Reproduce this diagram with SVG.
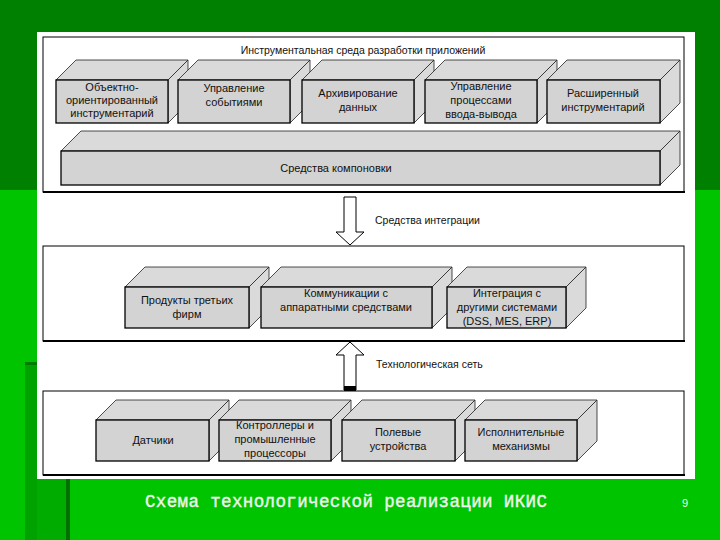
<svg xmlns="http://www.w3.org/2000/svg" width="720" height="540" viewBox="0 0 720 540">
<style>
.panel{fill:#fff;stroke:#000;stroke-width:1}
.pb{stroke:#000;stroke-width:2;fill:none}
.side{fill:#dadada;stroke:#222;stroke-width:0.8;stroke-linejoin:round}
.front{fill:#d3d3d3;stroke:#000;stroke-width:1.3}
.t{font-family:"Liberation Sans",Arial,sans-serif;font-size:11px;fill:#111;text-anchor:middle}
.lbl{font-family:"Liberation Sans",Arial,sans-serif;font-size:10.5px;fill:#111}
.arrow{fill:#fff;stroke:#000;stroke-width:1}
</style>
<rect x="0" y="0" width="720" height="540" fill="#00c400"/>
<rect x="0" y="0" width="720" height="190" fill="#008000"/>
<rect x="25" y="363" width="12" height="177" fill="#00a200"/>
<rect x="25" y="362" width="12" height="3" fill="#007a00"/>
<rect x="37" y="479" width="30" height="61" fill="#00ac00"/>
<rect x="66" y="479" width="4" height="61" fill="#007000"/>
<rect x="37" y="32" width="658" height="447" fill="#fff"/>

<g id="panel-top">
<rect class="panel" x="43" y="37" width="641" height="155"/>
<line class="pb" x1="43" y1="192" x2="685" y2="192"/>
<text class="lbl" x="363" y="54" text-anchor="middle">Инструментальная среда разработки приложений</text>
</g>
<g id="panel-mid">
<rect class="panel" x="43" y="246" width="641" height="95"/>
<line class="pb" x1="43" y1="341" x2="685" y2="341"/>
</g>
<g id="panel-bot">
<rect class="panel" x="43" y="391" width="641" height="84"/>
<line class="pb" x1="43" y1="475" x2="685" y2="475"/>
</g>

<g id="b1">
<polygon class="side" points="56,80 76,60 188,60 168,80"/>
<polygon class="side" points="168,80 188,60 188,103 168,123"/>
<rect class="front" x="56" y="80" width="112" height="43"/>
<text class="t" x="112" y="91">Объектно-</text>
<text class="t" x="112" y="104">ориентированный</text>
<text class="t" x="112" y="117">инструментарий</text>
</g>
<g id="b2">
<polygon class="side" points="178,80 198,60 310,60 290,80"/>
<polygon class="side" points="290,80 310,60 310,103 290,123"/>
<rect class="front" x="178" y="80" width="112" height="43"/>
<text class="t" x="234" y="92">Управление</text>
<text class="t" x="234" y="106">событиями</text>
</g>
<g id="b3">
<polygon class="side" points="302,80 322,60 434,60 414,80"/>
<polygon class="side" points="414,80 434,60 434,103 414,123"/>
<rect class="front" x="302" y="80" width="112" height="43"/>
<text class="t" x="358" y="97">Архивирование</text>
<text class="t" x="358" y="111">данных</text>
</g>
<g id="b4">
<polygon class="side" points="425,80 445,60 557,60 537,80"/>
<polygon class="side" points="537,80 557,60 557,103 537,123"/>
<rect class="front" x="425" y="80" width="112" height="43"/>
<text class="t" x="481" y="90">Управление</text>
<text class="t" x="481" y="104">процессами</text>
<text class="t" x="481" y="118">ввода-вывода</text>
</g>
<g id="b5">
<polygon class="side" points="547,80 567,60 680,60 660,80"/>
<polygon class="side" points="660,80 680,60 680,103 660,123"/>
<rect class="front" x="547" y="80" width="113" height="43"/>
<text class="t" x="603" y="97">Расширенный</text>
<text class="t" x="603" y="111">инструментарий</text>
</g>
<g id="b6">
<polygon class="side" points="61,151 81,131 680,131 660,151"/>
<polygon class="side" points="660,151 680,131 680,165 660,185"/>
<rect class="front" x="61" y="151" width="599" height="34"/>
<text class="t" x="336" y="172">Средства компоновки</text>
</g>

<g id="m1">
<polygon class="side" points="125,287 145,267 269,267 249,287"/>
<polygon class="side" points="249,287 269,267 269,308 249,328"/>
<rect class="front" x="125" y="287" width="124" height="41"/>
<text class="t" x="187" y="304">Продукты третьих</text>
<text class="t" x="187" y="318">фирм</text>
</g>
<g id="m2">
<polygon class="side" points="261,287 281,267 452,267 432,287"/>
<polygon class="side" points="432,287 452,267 452,308 432,328"/>
<rect class="front" x="261" y="287" width="171" height="41"/>
<text class="t" x="346" y="297">Коммуникации с</text>
<text class="t" x="346" y="311">аппаратными средствами</text>
</g>
<g id="m3">
<polygon class="side" points="447,287 467,267 586,267 566,287"/>
<polygon class="side" points="566,287 586,267 586,308 566,328"/>
<rect class="front" x="447" y="287" width="119" height="41"/>
<text class="t" x="507" y="297">Интеграция с</text>
<text class="t" x="507" y="311">другими системами</text>
<text class="t" x="507" y="325">(DSS, MES, ERP)</text>
</g>

<g id="d1">
<polygon class="side" points="96,420 116,400 229,400 209,420"/>
<polygon class="side" points="209,420 229,400 229,441 209,461"/>
<rect class="front" x="96" y="420" width="113" height="41"/>
<text class="t" x="153" y="444">Датчики</text>
</g>
<g id="d2">
<polygon class="side" points="219,420 239,400 351,400 331,420"/>
<polygon class="side" points="331,420 351,400 351,441 331,461"/>
<rect class="front" x="219" y="420" width="112" height="41"/>
<text class="t" x="275" y="429">Контроллеры и</text>
<text class="t" x="275" y="443">промышленные</text>
<text class="t" x="275" y="457">процессоры</text>
</g>
<g id="d3">
<polygon class="side" points="342,420 362,400 475,400 455,420"/>
<polygon class="side" points="455,420 475,400 475,441 455,461"/>
<rect class="front" x="342" y="420" width="113" height="41"/>
<text class="t" x="398" y="436">Полевые</text>
<text class="t" x="398" y="450">устройства</text>
</g>
<g id="d4">
<polygon class="side" points="465,420 485,400 597,400 577,420"/>
<polygon class="side" points="577,420 597,400 597,441 577,461"/>
<rect class="front" x="465" y="420" width="112" height="41"/>
<text class="t" x="521" y="436">Исполнительные</text>
<text class="t" x="521" y="450">механизмы</text>
</g>

<g id="connectors">
<polygon class="arrow" points="344,197 356,197 356,232 364,232 350,245 336,232 344,232"/>
<text class="lbl" x="375" y="224">Средства интеграции</text>
<polygon class="arrow" points="350,342 364,355 356,355 356,390 344,390 344,355 336,355"/>
<rect x="344" y="386" width="12" height="5" fill="#000"/>
<text class="lbl" x="376" y="368">Технологическая сеть</text>
</g>

<text x="145" y="507" font-family="'Liberation Mono','Courier New',monospace" font-size="17.5" fill="#eef5ee" stroke="#eef5ee" stroke-width="0.4" textLength="402" lengthAdjust="spacing">Схема технологической реализации ИКИС</text>
<text x="685" y="507" font-family="'Liberation Sans',Arial,sans-serif" font-size="11" fill="#e6ffe6" text-anchor="middle">9</text>
</svg>
